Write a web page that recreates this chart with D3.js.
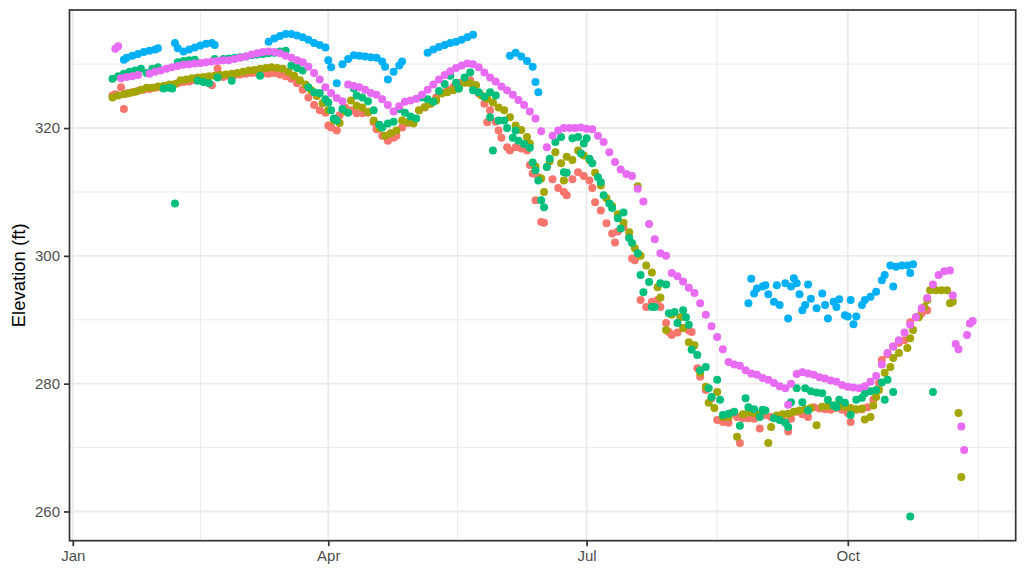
<!DOCTYPE html>
<html>
<head>
<meta charset="utf-8">
<script src="https://cdn.jsdelivr.net/npm/d3@7"></script>
<style>
  body { margin: 0; background: #fff; }
  text { font-family: "Liberation Sans", Arial, sans-serif; }
</style>
</head>
<body>
<svg id="chart"></svg>
<script>
// =======================
// SCATTER: lake elevation by site over one year
// each point is [day of year (0 = Jan 1), elevation in ft]
// =======================

const seriesNames = ["Site 1", "Site 2", "Site 3", "Site 4", "Site 5"];
const seriesColors = ["#F8766D", "#A3A500", "#00BF7D", "#00B0F6", "#E76BF3"];
const baseYear = 2021;
const yLabel = "Elevation (ft)";

const site1 = [[14,325.1],[15,325.3],[17,326.4],[18,323.0],[19,325.4],[21,325.6],[23,325.8],[25,326.0],[27,326.1],[29,326.3],[31,326.4],[33,326.6],[35,326.7],[37,327.0],[39,327.2],[41,327.3],[43,327.5],[45,327.6],[47,327.7],[49,326.7],[51,329.3],[53,328.0],[55,328.2],[57,328.3],[59,328.4],[61,328.5],[63,328.6],[65,328.6],[67,328.5],[69,328.5],[71,328.6],[73,328.4],[75,328.1],[77,327.7],[79,327.0],[81,326.0],[83,324.8],[85,323.6],[87,322.8],[89,322.4],[90,320.4],[91,320.1],[93,319.6],[94,322.0],[96,323.2],[98,322.8],[100,322.3],[102,322.3],[104,322.4],[106,320.9],[107,319.8],[109,318.8],[111,318.0],[113,318.5],[114,318.8],[116,320.1],[118,320.8],[120,321.2],[122,322.8],[124,323.2],[126,323.8],[128,324.8],[130,325.5],[132,326.0],[134,326.4],[136,327.1],[138,327.3],[140,327.5],[142,326.7],[143,325.4],[145,323.8],[146,320.9],[147,322.8],[149,321.0],[150,319.6],[151,318.5],[153,317.0],[154,316.5],[156,317.0],[158,316.8],[160,316.5],[161,314.2],[162,312.9],[163,308.7],[164,312.3],[165,305.3],[166,305.2],[167,313.9],[169,312.0],[171,310.6],[173,310.0],[174,309.5],[176,312.0],[178,313.1],[180,312.5],[182,311.8],[183,310.6],[184,308.4],[186,307.1],[188,305.1],[190,303.5],[191,302.1],[192,303.8],[194,304.5],[196,302.9],[197,299.6],[198,299.3],[200,293.1],[202,292.0],[204,292.8],[206,293.1],[207,292.0],[209,289.5],[210,288.1],[211,287.6],[213,288.0],[215,288.7],[217,288.3],[218,288.1],[220,282.4],[221,281.1],[223,279.0],[225,277.7],[227,274.3],[229,274.0],[231,273.9],[232,275.4],[234,274.8],[235,270.7],[236,274.6],[238,274.6],[240,274.5],[242,273.0],[244,275.1],[246,274.8],[248,274.6],[250,274.3],[251,274.0],[252,272.5],[253,274.5],[255,275.6],[257,275.2],[259,274.8],[261,276.3],[263,276.1],[265,276.0],[267,275.9],[269,276.2],[271,275.9],[273,275.4],[274,274.0],[276,275.9],[278,276.0],[280,276.3],[282,277.5],[284,280.1],[285,283.7],[287,284.6],[289,285.8],[291,286.4],[293,286.8],[295,289.6],[297,290.4],[299,291.0],[301,291.5]];

const site2 = [[14,324.8],[16,325.1],[18,325.3],[20,325.5],[22,325.7],[24,326.0],[26,326.3],[28,326.3],[30,326.5],[32,326.6],[34,326.8],[36,326.9],[38,327.5],[40,327.6],[42,327.8],[44,327.9],[46,328.0],[48,328.1],[50,328.2],[52,328.3],[54,328.4],[56,328.5],[58,328.6],[60,328.8],[62,329.0],[64,329.1],[66,329.3],[68,329.4],[70,329.5],[72,329.4],[74,329.3],[76,328.8],[78,328.2],[80,327.5],[82,326.8],[84,325.9],[86,325.0],[88,323.9],[90,322.8],[92,321.2],[94,320.8],[96,322.6],[98,324.3],[100,323.5],[102,323.2],[104,322.5],[106,321.2],[108,320.0],[110,318.8],[112,319.2],[114,319.6],[116,321.2],[118,320.9],[120,320.7],[122,322.8],[124,323.3],[126,323.8],[128,324.3],[130,325.4],[132,325.6],[134,325.9],[136,326.2],[138,327.1],[140,327.0],[142,326.7],[144,325.1],[146,324.6],[148,324.0],[150,323.2],[152,322.8],[154,321.7],[156,320.4],[158,319.7],[160,318.6],[161,317.6],[163,314.0],[165,312.1],[166,310.0],[168,314.8],[170,316.2],[172,314.5],[173,311.8],[174,315.5],[176,315.0],[178,316.5],[180,315.7],[182,315.0],[184,313.0],[186,311.0],[188,309.0],[190,307.8],[192,306.5],[194,305.2],[196,303.7],[198,301.2],[199,310.9],[200,300.0],[202,298.5],[204,297.4],[206,295.1],[207,293.5],[209,288.4],[211,290.8],[214,290.4],[215,288.7],[217,286.5],[219,286.0],[221,281.7],[223,279.5],[224,277.0],[226,276.2],[227,278.7],[229,274.8],[231,274.8],[234,271.7],[236,275.2],[238,275.5],[240,275.4],[242,275.3],[245,270.7],[246,273.2],[248,275.0],[250,275.2],[252,275.3],[254,275.6],[256,275.8],[258,276.0],[260,276.2],[262,273.5],[264,276.4],[266,276.5],[268,276.6],[270,276.5],[272,276.4],[274,276.2],[276,276.0],[278,276.1],[279,274.4],[281,274.8],[282,276.6],[283,277.9],[284,279.0],[286,281.7],[288,282.6],[289,284.0],[291,284.8],[294,285.6],[295,287.1],[296,288.4],[298,290.4],[300,292.0],[301,293.1],[302,294.6],[304,294.6],[306,294.6],[308,294.6],[309,292.6],[310,292.8],[312,275.4],[313,265.4]];

const site3 = [[14,327.7],[16,328.1],[18,328.5],[20,328.8],[22,329.0],[24,329.3],[26,328.6],[28,329.3],[30,329.5],[32,326.2],[34,326.3],[35,326.2],[36,308.2],[37,330.3],[39,330.5],[41,330.6],[43,330.7],[44,327.4],[46,327.2],[48,327.0],[50,330.8],[51,327.9],[53,330.8],[55,330.9],[56,327.4],[57,331.0],[59,331.1],[61,331.2],[63,331.4],[65,331.5],[66,328.2],[67,331.6],[69,331.7],[71,331.8],[73,332.0],[75,332.1],[77,329.8],[79,329.4],[81,329.0],[83,326.4],[85,325.6],[87,325.5],[89,324.5],[90,324.0],[91,322.8],[92,321.5],[93,321.2],[95,323.0],[97,322.4],[99,326.2],[100,325.1],[102,324.8],[104,324.2],[106,322.8],[108,320.5],[109,320.1],[111,320.7],[113,321.0],[115,323.0],[117,322.4],[119,321.8],[121,321.5],[123,324.8],[125,324.5],[127,324.1],[129,325.8],[131,326.9],[133,328.2],[135,327.1],[136,326.2],[138,327.9],[140,328.7],[141,325.9],[143,325.6],[145,324.9],[147,325.6],[147,321.7],[148,316.5],[149,325.1],[150,321.2],[152,321.2],[153,320.0],[155,318.5],[156,319.6],[157,318.0],[159,317.5],[161,316.9],[162,314.6],[163,313.4],[164,311.8],[165,308.7],[166,307.6],[167,313.9],[168,315.2],[170,317.8],[172,318.6],[173,313.1],[174,313.0],[176,318.4],[178,318.6],[179,316.0],[180,317.6],[181,318.4],[182,315.2],[183,314.5],[185,312.3],[186,311.5],[187,309.5],[189,308.2],[190,307.5],[192,305.9],[193,304.3],[194,306.8],[196,302.8],[197,302.0],[199,300.4],[200,297.0],[201,294.3],[203,295.9],[204,292.0],[205,292.0],[207,295.7],[209,295.5],[210,291.0],[212,291.2],[213,289.5],[215,291.5],[216,290.4],[217,289.2],[218,285.3],[220,284.5],[221,282.1],[223,282.6],[224,279.3],[225,277.9],[227,280.6],[228,277.5],[229,275.1],[231,275.3],[233,275.6],[235,273.4],[237,277.7],[238,276.3],[240,276.0],[242,274.8],[243,275.9],[244,275.8],[247,274.6],[249,274.3],[251,273.9],[252,273.2],[253,277.1],[255,279.3],[257,277.1],[258,279.3],[259,275.8],[260,278.8],[262,278.6],[264,278.5],[266,277.5],[268,276.6],[269,276.3],[270,277.5],[272,277.0],[274,275.1],[276,277.5],[278,277.8],[279,278.5],[281,278.8],[283,279.0],[285,280.2],[286,277.5],[287,280.6],[289,278.7],[295,259.2],[303,278.7]];

const site4 = [[18,330.7],[19,331.0],[21,331.3],[23,331.6],[25,331.9],[27,332.1],[29,332.3],[30,332.5],[36,333.3],[37,332.5],[39,332.0],[41,332.3],[43,332.6],[45,332.9],[47,333.2],[49,333.3],[50,333.0],[69,333.5],[71,334.0],[73,334.4],[75,334.7],[77,334.7],[79,334.5],[81,334.2],[83,333.8],[85,333.3],[87,333.0],[89,332.6],[90,330.6],[91,329.5],[93,327.0],[95,330.0],[97,330.8],[99,331.4],[101,331.3],[103,331.2],[105,331.1],[107,331.0],[109,330.4],[110,329.6],[111,327.6],[113,328.8],[115,329.8],[116,330.4],[125,331.8],[127,332.3],[129,332.7],[131,333.0],[133,333.3],[135,333.5],[137,333.8],[139,334.2],[141,334.6],[154,331.3],[156,331.8],[158,331.2],[160,330.5],[162,329.6],[163,327.2],[164,325.6],[238,292.6],[239,296.4],[240,294.1],[241,294.9],[243,295.2],[244,295.4],[245,294.0],[247,292.8],[248,295.4],[249,292.3],[251,295.7],[252,290.2],[253,295.2],[254,296.5],[255,295.7],[256,294.0],[257,291.5],[258,292.3],[259,295.5],[260,293.3],[262,291.8],[264,294.1],[265,292.3],[266,290.2],[268,292.8],[269,292.0],[270,293.2],[272,290.7],[273,290.5],[274,293.1],[275,289.3],[276,290.5],[278,292.3],[279,293.1],[281,293.6],[283,294.4],[285,296.2],[286,297.0],[288,298.5],[289,295.2],[290,298.3],[292,298.5],[294,298.5],[295,297.3],[296,298.7]];

const site5 = [[15,332.4],[16,332.8],[17,327.8],[19,328.0],[21,328.1],[23,328.3],[27,328.5],[29,328.8],[31,329.0],[33,329.3],[35,329.5],[37,329.7],[39,329.9],[41,330.0],[43,330.1],[45,330.2],[47,330.3],[49,330.4],[51,330.5],[53,330.6],[55,330.6],[57,330.8],[59,331.0],[61,331.2],[63,331.5],[65,331.7],[67,331.9],[69,332.0],[71,331.9],[73,331.7],[75,331.3],[77,331.0],[79,330.6],[81,330.3],[83,329.6],[85,328.6],[87,327.6],[89,326.4],[91,325.5],[93,324.7],[95,324.2],[97,326.8],[99,326.6],[101,326.4],[103,326.0],[105,325.5],[107,325.2],[109,324.5],[111,323.6],[113,322.6],[115,323.4],[117,324.1],[119,324.3],[121,324.6],[123,325.2],[125,326.0],[127,326.8],[129,327.6],[131,328.3],[133,328.9],[135,329.4],[137,329.8],[139,330.1],[141,330.0],[143,329.5],[145,328.7],[147,327.9],[149,327.3],[151,326.5],[153,325.9],[155,325.2],[157,324.4],[159,323.6],[161,322.6],[163,321.5],[165,319.5],[167,317.0],[169,318.8],[171,319.6],[173,320.0],[175,320.0],[177,320.0],[179,320.1],[181,319.9],[183,319.8],[185,318.8],[187,317.8],[189,316.2],[191,314.7],[193,313.5],[195,312.8],[197,312.5],[199,310.5],[201,308.5],[203,305.0],[205,302.6],[207,300.4],[209,300.0],[211,297.3],[213,296.8],[215,296.0],[217,295.0],[219,294.2],[221,292.6],[223,290.8],[225,289.0],[227,287.3],[229,285.4],[231,283.4],[233,283.0],[235,282.8],[237,282.1],[239,281.6],[241,281.4],[243,280.9],[245,280.6],[247,280.1],[249,279.6],[251,279.3],[252,276.7],[253,280.0],[255,281.5],[257,281.8],[259,281.6],[261,281.4],[263,281.0],[265,280.8],[267,280.5],[269,280.3],[271,279.8],[273,279.5],[275,279.4],[277,279.3],[279,279.6],[281,280.3],[283,281.2],[285,283.0],[287,284.8],[289,285.8],[291,286.8],[293,288.0],[295,289.2],[297,290.4],[299,291.8],[301,293.4],[303,295.5],[305,297.0],[307,297.6],[309,297.7],[310,293.8],[311,286.2],[312,285.4],[313,273.3],[314,269.6],[315,287.6],[316,289.4],[317,289.8]];

const seriesData = [site1, site2, site3, site4, site5];

// ---- layout ----
const width = 1026, height = 576;
const margin = { top: 10, right: 10.3, bottom: 35.3, left: 69.5 };
const innerW = width - margin.left - margin.right;
const innerH = height - margin.top - margin.bottom;

const dayToDate = d => new Date(Date.UTC(baseYear, 0, 1 + d));

// flatten to rows, keeping series order (drawn first to last)
const rows = [];
seriesData.forEach((s, i) => {
  s.forEach(([d, v]) => rows.push({ site: seriesNames[i], date: dayToDate(d), value: v }));
});

// ggplot-like 5% expansion on both axes
const expand = ([a, b]) => [a - (b - a) * 0.05, b + (b - a) * 0.05];
const xExt = d3.extent(rows, r => r.date).map(Number);
const yExt = d3.extent(rows, r => r.value);

const x = d3.scaleUtc()
  .domain(expand(xExt).map(t => new Date(t)))
  .range([0, innerW]);
const y = d3.scaleLinear()
  .domain(expand(yExt))
  .range([innerH, 0]);

const color = d3.scaleOrdinal().domain(seriesNames).range(seriesColors);

const svg = d3.select("#chart")
  .attr("width", width)
  .attr("height", height);

const g = svg.append("g")
  .attr("transform", `translate(${margin.left},${margin.top})`);

// ---- grid ----
const xMajor = x.ticks(d3.utcMonth.every(3));
const xAll = d3.utcMonth.every(3).range(d3.utcMonth.offset(xMajor[0], -3), d3.utcMonth.offset(xMajor[xMajor.length - 1], 4));
const xMinor = d3.pairs(xAll, (a, b) => new Date((+a + +b) / 2))
  .filter(t => t >= x.domain()[0] && t <= x.domain()[1]);

const yMajor = y.ticks(5);
const yStep = yMajor[1] - yMajor[0];
const yMinor = d3.pairs([yMajor[0] - yStep, ...yMajor, yMajor[yMajor.length - 1] + yStep], (a, b) => (a + b) / 2)
  .filter(v => v >= y.domain()[0] && v <= y.domain()[1]);

const grid = g.append("g").attr("class", "grid");
grid.selectAll(".xminor").data(xMinor).join("line")
  .attr("x1", d => x(d)).attr("x2", d => x(d))
  .attr("y1", 0).attr("y2", innerH)
  .attr("stroke", "#EBEBEB").attr("stroke-width", 1);
grid.selectAll(".yminor").data(yMinor).join("line")
  .attr("x1", 0).attr("x2", innerW)
  .attr("y1", d => y(d)).attr("y2", d => y(d))
  .attr("stroke", "#EBEBEB").attr("stroke-width", 1);
grid.selectAll(".xmajor").data(xMajor).join("line")
  .attr("x1", d => x(d)).attr("x2", d => x(d))
  .attr("y1", 0).attr("y2", innerH)
  .attr("stroke", "#EBEBEB").attr("stroke-width", 1.9);
grid.selectAll(".ymajor").data(yMajor).join("line")
  .attr("x1", 0).attr("x2", innerW)
  .attr("y1", d => y(d)).attr("y2", d => y(d))
  .attr("stroke", "#EBEBEB").attr("stroke-width", 1.9);

// ---- points ----
g.append("g")
  .selectAll("circle")
  .data(rows)
  .join("circle")
    .attr("cx", d => x(d.date))
    .attr("cy", d => y(d.value))
    .attr("r", 4)
    .attr("fill", d => color(d.site));

// ---- panel border ----
g.append("rect")
  .attr("width", innerW).attr("height", innerH)
  .attr("fill", "none")
  .attr("stroke", "#333333").attr("stroke-width", 1.7);

// ---- axes ----
const xAxis = g.append("g")
  .attr("transform", `translate(0,${innerH})`)
  .call(d3.axisBottom(x).tickValues(xMajor).tickFormat(d3.utcFormat("%b")).tickSize(5.5).tickPadding(4));
const yAxis = g.append("g")
  .call(d3.axisLeft(y).tickValues(yMajor).tickSize(5.5).tickPadding(4));

[xAxis, yAxis].forEach(a => {
  a.select(".domain").remove();
  a.selectAll(".tick line").attr("stroke", "#333333").attr("stroke-width", 1.7);
  a.selectAll(".tick text")
    .attr("fill", "#4D4D4D")
    .style("font-size", "15px")
    .style("font-family", "'Liberation Sans', Arial, sans-serif");
});

// y title
svg.append("text")
  .attr("transform", `translate(25,${margin.top + innerH / 2}) rotate(-90)`)
  .attr("text-anchor", "middle")
  .style("font-size", "18.5px")
  .attr("fill", "#000")
  .text(yLabel);
</script>
</body>
</html>
